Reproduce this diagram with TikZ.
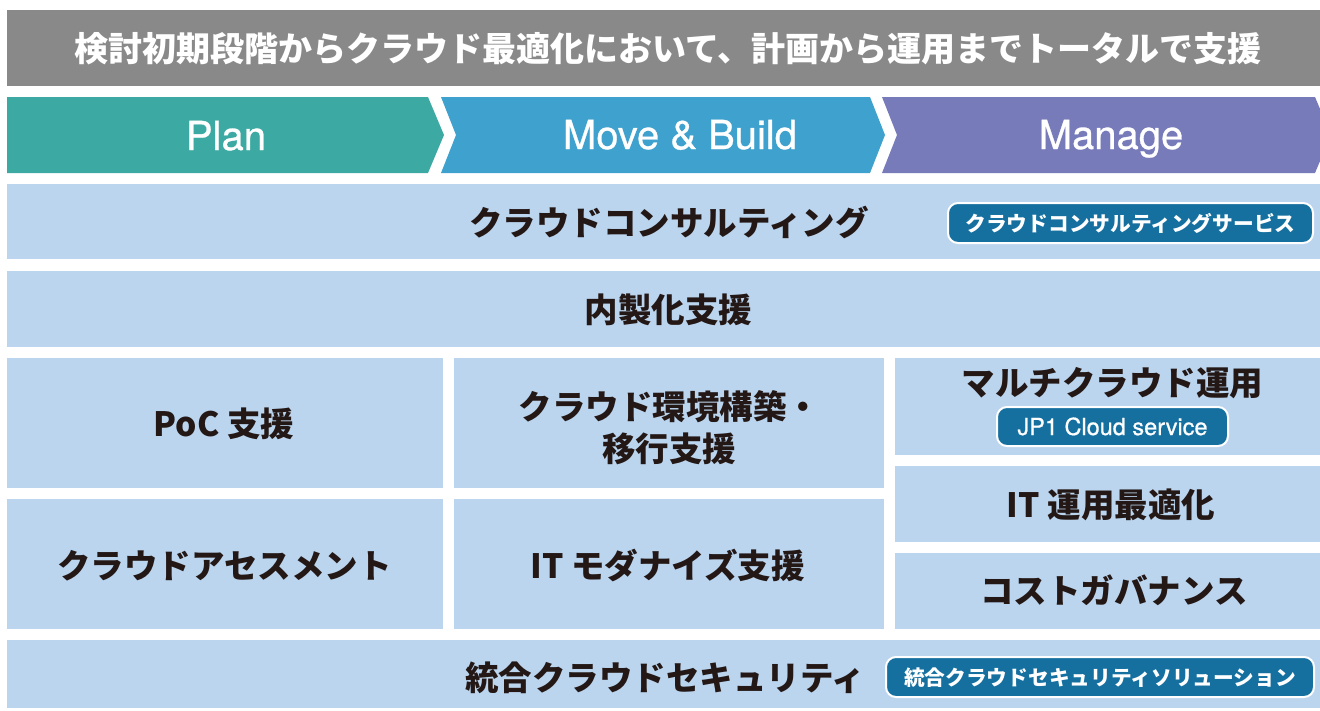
\documentclass[tikz,border=0pt]{standalone}
\usepackage{fontspec}
\setmainfont{Noto Sans CJK JP}
\newfontfamily\lat[FakeBold=0.7]{TeX Gyre Heros}
\definecolor{hdr}{HTML}{898989}
\definecolor{planc}{HTML}{3CAAA3}
\definecolor{movec}{HTML}{3FA1CD}
\definecolor{mngc}{HTML}{777BBA}
\definecolor{boxc}{HTML}{BBD5EF}
\definecolor{badgec}{HTML}{1570A0}
\definecolor{txtc}{HTML}{231815}
\tikzset{
  panel/.style={fill=boxc, draw=none},
  badgebox/.style={fill=badgec, draw=white, line width=2pt, rounded corners=10pt},
  boxtext/.style={anchor=base, inner sep=0, text=txtc, font=\fontsize{33.5}{42}\selectfont\bfseries},
  badgetext/.style={anchor=base, inner sep=0, text=white, font=\fontsize{20.7}{24}\selectfont\bfseries},
  phasetext/.style={anchor=base, inner sep=0, text=white, font=\lat\fontsize{40}{44}\selectfont},
}
\begin{document}
\begin{tikzpicture}[x=1pt,y=-1pt]
\useasboundingbox (0,0) rectangle (1320,710);
% header
\fill[hdr] (7,10) rectangle (1320,86);
\node[anchor=base, inner sep=0, text=white, font=\fontsize{34}{40}\selectfont\bfseries] (title) at (668,61) {検討初期段階からクラウド最適化において、計画から運用までトータルで支援};
% chevrons
\fill[planc] (7,97) -- (428,97) -- (444,135) -- (428,173) -- (7,173) -- cycle;
\fill[movec] (441,97) -- (870,97) -- (885,135) -- (870,173) -- (441,173) -- (456,135) -- cycle;
\fill[mngc] (882,97) -- (1315,97) -- (1331,135) -- (1315,173) -- (882,173) -- (897,135) -- cycle;
\node[phasetext] (plan) at (226,150) {Plan};
\node[phasetext] (move) at (680,149) {Move \& Build};
\node[phasetext] (manage) at (1111,149) {Manage};
% panels
\fill[panel] (7,184) rectangle (1320,259);
\fill[panel] (7,271) rectangle (1320,347);
\fill[panel] (7,358) rectangle (443,488);
\fill[panel] (7,499) rectangle (443,629);
\fill[panel] (454,358) rectangle (884,488);
\fill[panel] (454,499) rectangle (884,629);
\fill[panel] (895,358) rectangle (1320,455);
\fill[panel] (895,466) rectangle (1320,542);
\fill[panel] (895,553) rectangle (1320,629);
\fill[panel] (7,640) rectangle (1320,708);
% panel texts
\node[boxtext] (cons) at (669,235) {クラウドコンサルティング};
\node[boxtext] (naisei) at (668.5,322) {内製化支援};
\node[boxtext] (poc) at (224,436) {PoC 支援};
\node[boxtext] (env1) at (669.5,419) {クラウド環境構築・};
\node[boxtext] (env2) at (669,461) {移行支援};
\node[boxtext] (multi) at (1112.5,395) {マルチクラウド運用};
\node[boxtext] (itops) at (1111,517) {IT 運用最適化};
\node[boxtext] (cost) at (1114,603) {コストガバナンス};
\node[boxtext] (assess) at (224.5,578) {クラウドアセスメント};
\node[boxtext] (modern) at (667.5,578) {IT モダナイズ支援};
\node[boxtext] (sec) at (665,690) {統合クラウドセキュリティ};
% badges
\draw[badgebox] (948,203) rectangle (1313,243);
\node[badgetext] (b1) at (1130.5,231) {クラウドコンサルティングサービス};
\draw[badgebox] (997,407) rectangle (1228,446);
\node[anchor=base, inner sep=0, text=white, font=\lat\fontsize{23.5}{26}\selectfont] (b2) at (1112.5,435) {JP1 Cloud service};
\draw[badgebox] (886,657) rectangle (1314,697);
\node[badgetext] (b3) at (1100,685) {統合クラウドセキュリティソリューション};
\end{tikzpicture}
\end{document}
